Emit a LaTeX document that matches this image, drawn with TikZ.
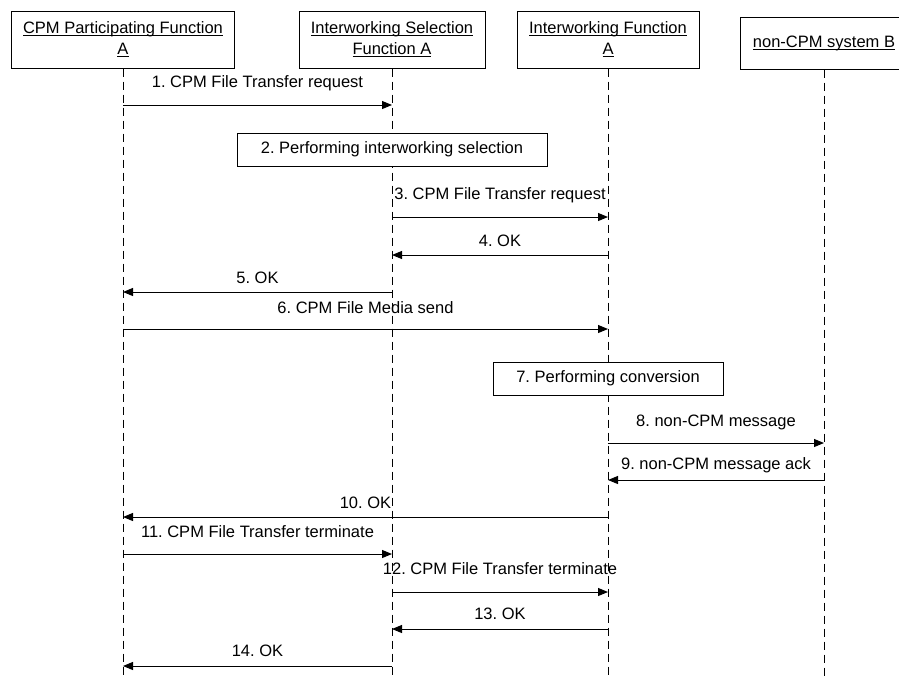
\documentclass[tikz,border=0pt]{standalone}
\usepackage{fontspec}
\setmainfont{Liberation Sans}
\usetikzlibrary{arrows.meta}
\newcommand{\uln}[1]{\underline{\vphantom{A}\smash{#1}}}
\frenchspacing

\begin{document}
\begin{tikzpicture}[
    x=1pt, y=-1pt,
    every node/.style={font=\fontsize{16.5}{21}\selectfont},
    entity/.style={rectangle, draw, line width=1pt, align=center, inner sep=0pt, minimum height=57pt},
    action/.style={rectangle, draw, fill=white, line width=1pt, inner sep=0pt, minimum height=33pt},
    life/.style={dash pattern=on 8pt off 5pt, line width=0.9pt},
    msg/.style={-{Triangle[length=10pt,width=8pt]}, line width=1pt},
    lbl/.style={inner sep=0pt}
  ]
    \clip (0,0) rectangle (899,675);

    % participants
    \node[entity, minimum width=223pt] (pa) at (123,39.5) {\uln{CPM Participating Function}\\\uln{A}};
    \node[entity, minimum width=186pt] (isf) at (392,39.5) {\uln{Interworking Selection}\\\uln{Function A}};
    \node[entity, minimum width=182pt] (iwf) at (608,39.5) {\uln{Interworking Function}\\\uln{A}};
    \node[entity, minimum width=168pt, minimum height=52pt] (ncb) at (824,43) {\uln{non-CPM system B}};

    % lifelines
    \draw[life] (pa.south) -- (pa |- 0,680);
    \draw[life] (isf.south) -- (isf |- 0,680);
    \draw[life] (iwf.south) -- (iwf |- 0,680);
    \draw[life] (ncb.south) -- (ncb |- 0,680);

    % local actions
    \node[action, minimum width=310pt] (sel) at (392,149.5) {2. Performing interworking selection};
    \node[action, minimum width=230pt] (conv) at (608,378.5) {7. Performing conversion};

    % messages
    \draw[msg] (pa |- 0,105) -- node[lbl, yshift=22pt]{1. CPM File Transfer request} (isf |- 0,105);
    \draw[msg] (isf |- 0,217) -- node[lbl, yshift=22pt]{3. CPM File Transfer request} (iwf |- 0,217);
    \draw[msg] (iwf |- 0,255) -- node[lbl, yshift=14pt]{4. OK} (isf |- 0,255);
    \draw[msg] (isf |- 0,292) -- node[lbl, yshift=14pt]{5. OK} (pa |- 0,292);
    \draw[msg] (pa |- 0,329) -- node[lbl, yshift=21pt]{6. CPM File Media send} (iwf |- 0,329);
    \draw[msg] (iwf |- 0,443) -- node[lbl, yshift=21pt]{8. non-CPM message} (ncb |- 0,443);
    \draw[msg] (ncb |- 0,480) -- node[lbl, yshift=15pt]{9. non-CPM message ack} (iwf |- 0,480);
    \draw[msg] (iwf |- 0,517) -- node[lbl, yshift=14pt]{10. OK} (pa |- 0,517);
    \draw[msg] (pa |- 0,554) -- node[lbl, yshift=22pt]{11. CPM File Transfer terminate} (isf |- 0,554);
    \draw[msg] (isf |- 0,592) -- node[lbl, yshift=23pt]{12. CPM File Transfer terminate} (iwf |- 0,592);
    \draw[msg] (iwf |- 0,629) -- node[lbl, yshift=15pt]{13. OK} (isf |- 0,629);
    \draw[msg] (isf |- 0,666) -- node[lbl, yshift=15pt]{14. OK} (pa |- 0,666);
\end{tikzpicture}
\end{document}
